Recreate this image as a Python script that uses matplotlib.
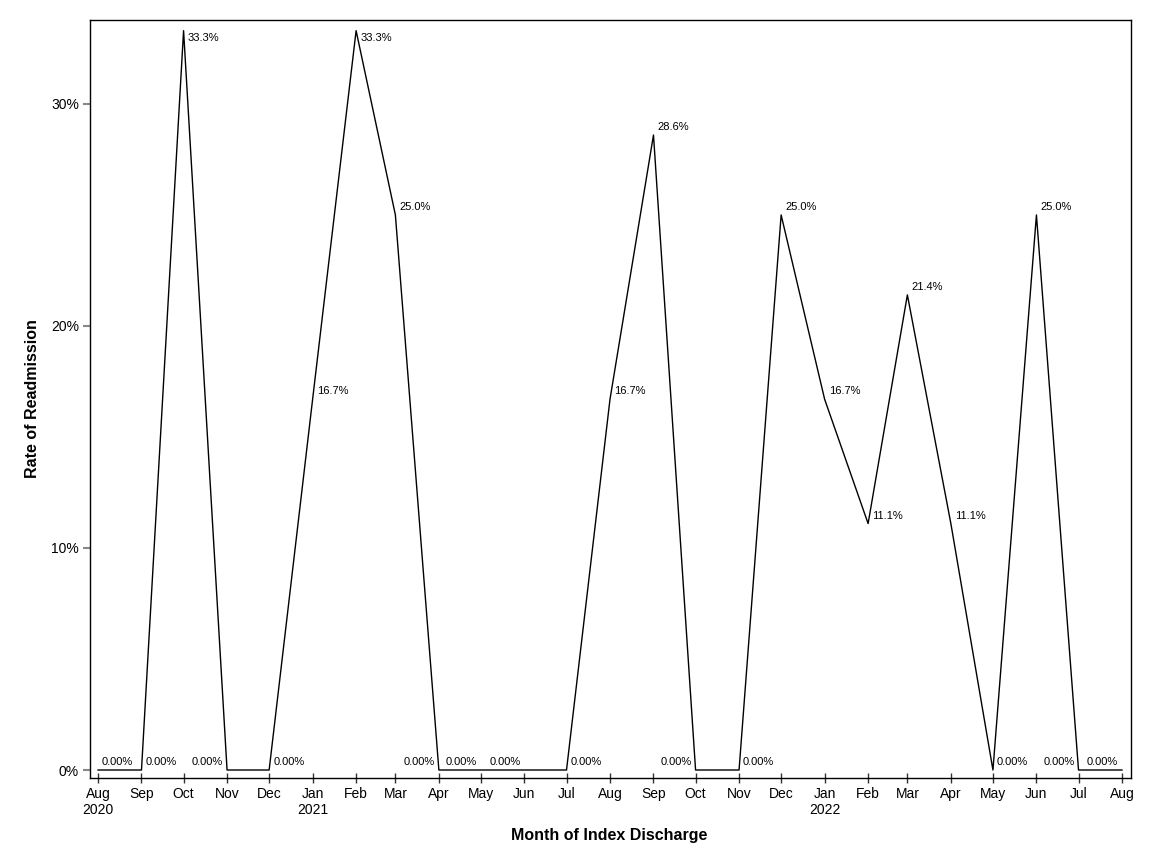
import matplotlib
matplotlib.use("Agg")
import matplotlib.pyplot as plt
import matplotlib.dates as mdates
import matplotlib.ticker as mticker
import pandas as pd

plt.rcParams['font.family'] = ['Liberation Sans', 'DejaVu Sans']

# monthly readmission rate (%), Aug 2020 .. Aug 2022
months = pd.date_range('2020-08-01', '2022-08-01', freq='MS')
rates = [0, 0, 33.3, 0, 0, 16.7, 33.3, 25.0, 0, 0, 0, 0,
         16.7, 28.6, 0, 0, 25.0, 16.7, 11.1, 21.4, 11.1, 0, 25.0, 0, 0]
# which side of the point each data label sits on
sides = ['r', 'r', 'r', 'l', 'r', 'r', 'r', 'r', 'l', 'l', 'l', 'r',
         'r', 'r', 'l', 'r', 'r', 'r', 'r', 'r', 'r', 'r', 'r', 'l', 'l']

fig = plt.figure(figsize=(11.52, 8.64), dpi=100)
ax = fig.add_axes([90/1152, 1-778/864, 1041/1152, 758/864])

ax.plot(months, rates, color='black', lw=1.0)

for d, v, s in zip(months, rates, sides):
    txt = f"{v:.2f}%" if v == 0 else f"{v:.1f}%"
    dy = -7 if v > 32 else 8
    dx = 4 if s == 'r' else -4
    ax.annotate(txt, (d, v), xytext=(dx, dy), textcoords='offset pixels',
                ha='left' if s == 'r' else 'right', va='center', fontsize=8)

ax.set_xlim(pd.Timestamp('2020-07-26 07:00'), pd.Timestamp('2022-08-07 10:00'))
ax.set_ylim(-0.36, 33.78)

ax.xaxis.set_major_locator(mdates.MonthLocator())
def fmt(x, pos):
    d = mdates.num2date(x)
    if pos == 0 or d.month == 1:
        return d.strftime('%b') + '\n' + d.strftime('%Y')
    return d.strftime('%b')
ax.xaxis.set_major_formatter(mticker.FuncFormatter(fmt))
ax.set_yticks([0, 10, 20, 30])
ax.yaxis.set_major_formatter(mticker.FuncFormatter(lambda v, p: f"{v:.0f}%"))

ax.tick_params(axis='x', direction='inout', length=7, width=1, color='#333333',
               labelsize=10, pad=3)
ax.tick_params(axis='y', direction='out', length=5, width=1.5, color='#888888',
               labelsize=10, pad=3)
for sp in ax.spines.values():
    sp.set_linewidth(1.0)
    sp.set_color('black')

ax.set_xlabel('Month of Index Discharge', fontsize=11.5, fontweight='bold')
ax.set_ylabel('Rate of Readmission', fontsize=11.5, fontweight='bold')
ax.xaxis.set_label_coords(0.499, -0.066)
ax.yaxis.set_label_coords(-0.048, 0.5)

fig.savefig('out.png', dpi=100)
